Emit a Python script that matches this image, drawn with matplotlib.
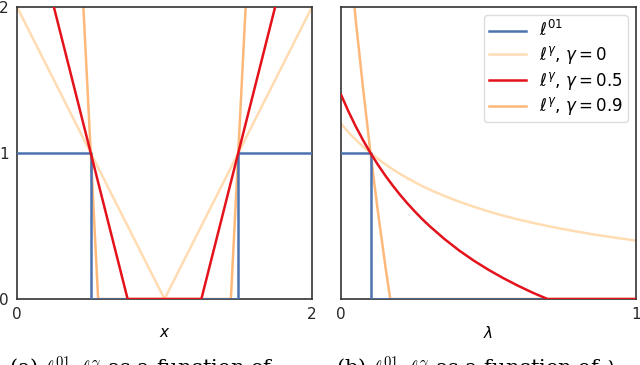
import matplotlib.pyplot as plt

plt.rcParams['mathtext.fontset'] = 'dejavusans'

# panel (a): losses as a function of x (vertices)
x_01 = [0, 0.5, 0.5, 1.5, 1.5, 2]
y_01 = [1, 1, 0, 0, 1, 1]
x_g0 = [0, 1, 2]
y_g0 = [2, 0, 2]
x_g05 = [0, 0.75, 1.25, 2]
y_g05 = [3, 0, 0, 3]
x_g09 = [0.4, 0.55, 1.45, 1.6]
y_g09 = [3, 0, 0, 3]

# panel (b): losses as a function of lambda
lam_01 = [0, 0.1, 0.1, 1]
l_01 = [1, 1, 0, 0]
lam = [0, 0.025, 0.05, 0.075, 0.1, 0.125, 0.15, 0.175, 0.2, 0.225, 0.25, 0.275,
       0.3, 0.35, 0.4, 0.45, 0.5, 0.55, 0.6, 0.65, 0.7, 0.75, 0.8, 0.85, 0.9, 0.95, 1.0]
l_g0 = [1.2, 1.143, 1.091, 1.043, 1.0, 0.96, 0.923, 0.889, 0.857, 0.828, 0.8, 0.774,
        0.75, 0.706, 0.667, 0.632, 0.6, 0.571, 0.545, 0.522, 0.5, 0.48, 0.462, 0.444,
        0.429, 0.414, 0.4]
l_g05 = [1.4, 1.286, 1.182, 1.087, 1.0, 0.92, 0.846, 0.778, 0.714, 0.655, 0.6, 0.548,
         0.5, 0.412, 0.333, 0.263, 0.2, 0.143, 0.091, 0.043, 0.0, 0.0, 0.0, 0.0,
         0.0, 0.0, 0.0]
lam_g09 = [0, 0.025, 0.05, 0.075, 0.1, 0.125, 0.15, 0.167, 1.0]
l_g09 = [3.0, 2.43, 1.91, 1.44, 1.0, 0.6, 0.23, 0.0, 0.0]

c_01 = '#4c72b0'
c_g0 = '#ffdcb2'
c_g05 = '#e3121b'
c_g09 = '#fdb87a'
lw = 1.8

fig = plt.figure(figsize=(6.4, 3.65), dpi=100)
ax1 = fig.add_axes([17 / 640, 66 / 365, 295 / 640, 292 / 365])
ax2 = fig.add_axes([341 / 640, 66 / 365, 295 / 640, 292 / 365])

ax1.plot(x_01, y_01, color=c_01, lw=lw, zorder=3)
ax1.plot(x_g0, y_g0, color=c_g0, lw=lw)
ax1.plot(x_g05, y_g05, color=c_g05, lw=lw, zorder=4)
ax1.plot(x_g09, y_g09, color=c_g09, lw=lw)
ax1.set_xlim(0, 2)
ax1.set_ylim(0, 2)
ax1.set_xticks([0, 2])
ax1.set_yticks([0, 1, 2])
ax1.set_xlabel('$x$', fontsize=11, labelpad=2)

ax2.plot(lam_01, l_01, color=c_01, lw=lw, label=r'$\ell^{01}$', zorder=3)
ax2.plot(lam, l_g0, color=c_g0, lw=lw, label=r'$\ell^{\gamma}$, $\gamma = 0$')
ax2.plot(lam, l_g05, color=c_g05, lw=lw, label=r'$\ell^{\gamma}$, $\gamma = 0.5$', zorder=4)
ax2.plot(lam_g09, l_g09, color=c_g09, lw=lw, label=r'$\ell^{\gamma}$, $\gamma = 0.9$')
ax2.set_xlim(0, 1)
ax2.set_ylim(0, 2)
ax2.set_xticks([0, 1])
ax2.set_yticks([])
ax2.set_xlabel(r'$\lambda$', fontsize=11, labelpad=2)
ax2.legend(loc='upper right', fontsize=12, framealpha=1, edgecolor='#dddddd',
           borderpad=0.3, handlelength=2.2, labelspacing=0.22)

for ax in (ax1, ax2):
    ax.tick_params(length=0, labelsize=11, pad=6, colors='#262626')
    for s in ax.spines.values():
        s.set_color('#333333')
        s.set_linewidth(1.2)

# captions from the paper, cut at the bottom edge
fig.text(150 / 640, 10 / 365, r'(a) $\ell^{01}, \ell^{\gamma}$ as a function of $x$',
         ha='center', va='top', fontsize=15, family='DejaVu Serif', math_fontfamily='cm')
fig.text(477 / 640, 10 / 365, r'(b) $\ell^{01}, \ell^{\gamma}$ as a function of $\lambda$',
         ha='center', va='top', fontsize=15, family='DejaVu Serif', math_fontfamily='cm')

fig.savefig('out.png', dpi=100)
